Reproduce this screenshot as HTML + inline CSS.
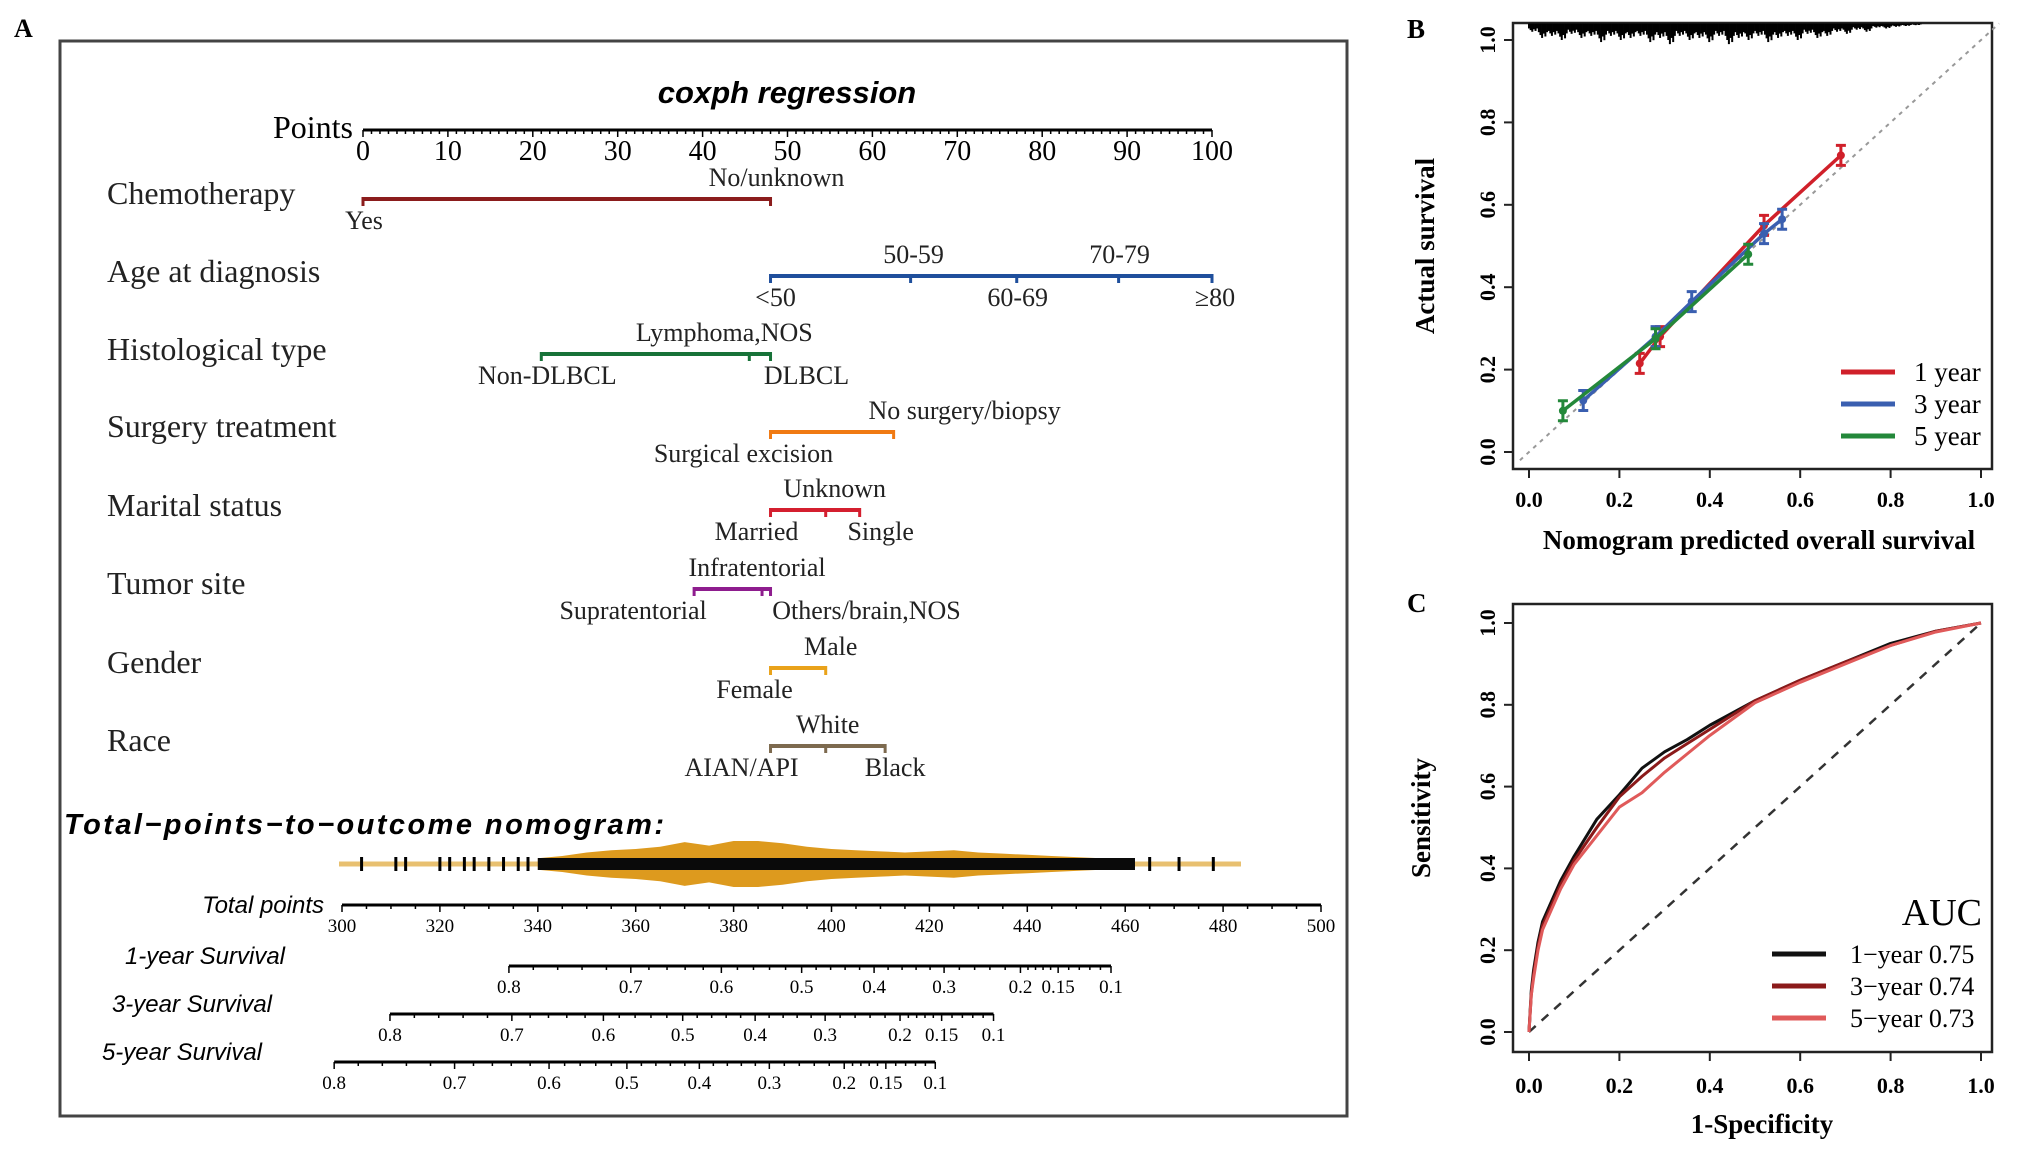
<!DOCTYPE html>
<html><head><meta charset="utf-8"><style>
html,body{margin:0;padding:0;background:#fff;}
svg{display:block;}
.serif{font-family:"Liberation Serif",serif;}
.sans{font-family:"Liberation Sans",sans-serif;}
</style></head>
<body>
<svg id="fig" width="2031" height="1157" viewBox="0 0 2031 1157" xmlns="http://www.w3.org/2000/svg"></svg>
<script>
// ---------- Panel A data ----------
const pointTicks = [0,10,20,30,40,50,60,70,80,90,100];
const rowNames = ["Chemotherapy","Age at diagnosis","Histological type","Surgery treatment","Marital status","Tumor site","Gender","Race"];
const rowColors = ["#8b1c1c","#1f4f9c","#177238","#f07a12","#d41f2f","#8e1d8e","#e9a21a","#7d6a4f"];
const chemoLevels = ["Yes","No/unknown"], chemoPts = [0,48], chemoPos = ["b","a"];
const ageLevels = ["<50","50-59","60-69","70-79","≥80"], agePts = [48,64.5,77,89,100], agePos = ["b","a","b","a","b"];
const histLevels = ["Non-DLBCL","Lymphoma,NOS","DLBCL"], histPts = [21,45.5,48], histPos = ["b","a","b"];
const surgLevels = ["Surgical excision","No surgery/biopsy"], surgPts = [48,62.5], surgPos = ["b","a"];
const marLevels = ["Married","Unknown","Single"], marPts = [48,54.5,58.5], marPos = ["b","a","b"];
const tumLevels = ["Supratentorial","Infratentorial","Others/brain,NOS"], tumPts = [39,47,48], tumPos = ["b","a","b"];
const genLevels = ["Female","Male"], genPts = [48,54.5], genPos = ["b","a"];
const raceLevels = ["AIAN/API","White","Black"], racePts = [48,54.5,61.5], racePos = ["b","a","b"];
const totalTicks = [300,320,340,360,380,400,420,440,460,480,500];
const survLabels = ["0.8","0.7","0.6","0.5","0.4","0.3","0.2","0.15","0.1"];
const surv1Pts = [334.1,359.0,377.5,393.9,408.7,423.0,438.6,446.3,457.1];
const surv3Pts = [309.8,334.7,353.4,369.6,384.4,398.7,414.0,422.5,433.1];
const surv5Pts = [298.4,323.0,342.3,358.2,373.0,387.3,402.6,411.1,421.2];
const distTicks = [304,311,313,320,322,325,327,330,333,336,338,465,471,478];
const blobTP = [340,345,350,355,360,365,370,375,380,385,390,395,400,405,410,415,420,425,430,435,440,445,450,455,460];
const blobHalf = [5,7,10,12,13,15,19,16,20,20,18,15,13,12,11,10,11,12,10,9,8,7,6,5,4];

// ---------- Panel B data ----------
const calibTicks = [0,0.2,0.4,0.6,0.8,1.0];
const cal1X = [0.245,0.29,0.52,0.69], cal1Y = [0.215,0.28,0.55,0.72];
const cal3X = [0.12,0.28,0.36,0.52,0.56], cal3Y = [0.125,0.28,0.365,0.53,0.565];
const cal5X = [0.075,0.28,0.485], cal5Y = [0.10,0.275,0.48];
const rugDepth = [0.02,0.035,0.03,0.04,0.025,0.035,0.03,0.045,0.03,0.04,0.035,0.03,0.045,0.035,0.05,0.03,0.04,0.035,0.045,0.03,0.05,0.035,0.04,0.03,0.045,0.035,0.03,0.04,0.025,0.035,0.03,0.02,0.025,0.015,0.02,0.01,0.012,0.008,0.006,0.004];

// ---------- Panel C data ----------
const rocFpr = [0,0.005,0.01,0.02,0.03,0.05,0.07,0.1,0.15,0.2,0.25,0.3,0.35,0.4,0.5,0.6,0.7,0.8,0.9,1];
const roc1Tpr = [0,0.1,0.15,0.22,0.27,0.32,0.37,0.43,0.52,0.58,0.645,0.685,0.715,0.75,0.81,0.86,0.905,0.95,0.98,1];
const roc3Tpr = [0,0.09,0.14,0.21,0.26,0.31,0.36,0.42,0.50,0.575,0.625,0.67,0.705,0.74,0.81,0.86,0.905,0.945,0.98,1];
const roc5Tpr = [0,0.09,0.13,0.2,0.25,0.30,0.35,0.41,0.48,0.55,0.585,0.635,0.68,0.725,0.805,0.855,0.9,0.945,0.978,1];
const aucLabels = ["1\u2212year 0.75","3\u2212year 0.74","5\u2212year 0.73"];
const rocColors = ["#111111","#8b1a1a","#e05a5a"];

const NS = "http://www.w3.org/2000/svg";
const svg = document.getElementById("fig");
function mk(tag, attrs, parent, text){
  const e = document.createElementNS(NS, tag);
  for (const k in attrs) e.setAttribute(k, attrs[k]);
  if (text !== undefined) e.textContent = text;
  (parent || svg).appendChild(e);
  return e;
}

// ===== Panel A =====
const gA = mk("g", {});


let t = mk("text",{x:14,y:37,"font-size":26,"font-weight":"bold",class:"serif"},gA,"A");


let r = mk("rect",{x:60,y:41,width:1287,height:1075,fill:"none",stroke:"#444","stroke-width":3},gA);


t = mk("text",{x:787,y:103,"font-size":31,"font-weight":"bold","font-style":"italic","text-anchor":"middle",class:"sans"},gA,"coxph regression");



const px = v => 363 + v*8.49;
const axisY = 130;
let ln = mk("line",{x1:px(0),x2:px(100),y1:axisY,y2:axisY,stroke:"#000","stroke-width":3},gA);


for (let v=0; v<=100; v++){
  const major = v%10===0;
  mk("line",{x1:px(v),x2:px(v),y1:axisY,y2:axisY+(major?7:4),stroke:"#000","stroke-width":1.5},gA);
}
pointTicks.forEach(v=>{
  const tt = mk("text",{x:px(v),y:axisY+30,"font-size":28,"text-anchor":"middle",class:"serif"},gA,String(v));
  
  
});
t = mk("text",{x:353,y:138,"font-size":32,"text-anchor":"end",class:"serif"},gA,"Points");



const rowLabelY = [194,272,350,427,506,584,663,741];
const rowLineY = [199,276,354,432,510,589,668,746];
const rowLevels = [chemoLevels,ageLevels,histLevels,surgLevels,marLevels,tumLevels,genLevels,raceLevels];
const rowPts = [chemoPts,agePts,histPts,surgPts,marPts,tumPts,genPts,racePts];
const rowPos = [chemoPos,agePos,histPos,surgPos,marPos,tumPos,genPos,racePos];
const labelDx = [[1,6],[5,3,1,1,3],[6,-25,36],[-27,71],[-14,9,21],[-61,-5,96],[-16,5],[-29,2,10]];
rowNames.forEach((name,i)=>{
  const lab = mk("text",{x:107,y:rowLabelY[i]+10,"font-size":32,class:"serif",fill:"#222"},gA,name);
  
  
  const pts = rowPts[i], y = rowLineY[i];
  const lo = Math.min(...pts), hi = Math.max(...pts);
  const l = mk("line",{x1:px(lo),x2:px(hi),y1:y,y2:y,stroke:rowColors[i],"stroke-width":4},gA);
  
  
  pts.forEach((p,j)=>{
    mk("line",{x1:px(p),x2:px(p),y1:y-2,y2:y+7,stroke:rowColors[i],"stroke-width":3},gA);
    const above = rowPos[i][j]==="a";
    const tl = mk("text",{x:px(p)+labelDx[i][j],y:above?y-13:y+30,"font-size":26,"text-anchor":"middle",class:"serif",fill:"#222"},gA,rowLevels[i][j]);
    
    
  });
});

t = mk("text",{x:64,y:834,"font-size":29,"font-weight":"bold","font-style":"italic",class:"sans",textLength:600},gA,"Total\u2212points\u2212to\u2212outcome nomogram:");



const tx = v => 342 + (v-300)*(1321-342)/200;
const distY = 864;
ln = mk("line",{x1:339,x2:1241,y1:distY,y2:distY,stroke:"#e8c070","stroke-width":5},gA);


let dTop = "", dBot = "";
blobTP.forEach((v,i)=>{ dTop += (i?"L":"M")+tx(v)+","+(distY-blobHalf[i]*1.15); });
for (let i=blobTP.length-1;i>=0;i--){ dBot += "L"+tx(blobTP[i])+","+(distY+blobHalf[i]*1.15); }
let pth = mk("path",{d:dTop+dBot+"Z",fill:"#dd9a1e"},gA);


let rc = mk("rect",{x:tx(340),y:distY-6,width:tx(462)-tx(340),height:12,fill:"#0a0a0a"},gA);


distTicks.forEach(v=>{
  const l = mk("line",{x1:tx(v),x2:tx(v),y1:distY-7,y2:distY+7,stroke:"#000","stroke-width":3},gA);
  
  
});

const totY = 905;
ln = mk("line",{x1:tx(300),x2:tx(500),y1:totY,y2:totY,stroke:"#000","stroke-width":3},gA);


for (let v=300; v<=500; v+=5){
  mk("line",{x1:tx(v),x2:tx(v),y1:totY,y2:totY+(v%20===0?7:4),stroke:"#000","stroke-width":1.5},gA);
}
totalTicks.forEach(v=>{
  const tt = mk("text",{x:tx(v),y:totY+27,"font-size":19,"text-anchor":"middle",class:"serif"},gA,String(v));
  
  
});
t = mk("text",{x:324,y:913,"font-size":24,"font-style":"italic","text-anchor":"end",class:"sans"},gA,"Total points");



const survRows = [
  {name:"1-year Survival", pts:surv1Pts, y:966, lx:285},
  {name:"3-year Survival", pts:surv3Pts, y:1014, lx:272},
  {name:"5-year Survival", pts:surv5Pts, y:1062, lx:262}
];
survRows.forEach(s=>{
  const lab = mk("text",{x:s.lx,y:s.y-2,"font-size":24,"font-style":"italic","text-anchor":"end",class:"sans"},gA,s.name);
  
  
  const a = tx(s.pts[0]), b = tx(s.pts[s.pts.length-1]);
  const l = mk("line",{x1:a,x2:b,y1:s.y,y2:s.y,stroke:"#000","stroke-width":3},gA);
  
  
  for (let j=0;j<s.pts.length-1;j++){
    for (let k=0;k<5;k++){
      const xx = tx(s.pts[j] + (s.pts[j+1]-s.pts[j])*k/5);
      mk("line",{x1:xx,x2:xx,y1:s.y,y2:s.y+(k===0?7:4),stroke:"#000","stroke-width":1.5},gA);
    }
  }
  mk("line",{x1:b,x2:b,y1:s.y,y2:s.y+7,stroke:"#000","stroke-width":1.5},gA);
  s.pts.forEach((p,j)=>{
    const tt = mk("text",{x:tx(p),y:s.y+27,"font-size":19,"text-anchor":"middle",class:"serif"},gA,survLabels[j]);
    
    
  });
});

// ===== Panel B =====
const gB = mk("g", {});


const bx = v => 1529 + v*(1981-1529);
const by = v => 452 - v*(452-40);
t = mk("text",{x:1407,y:38,"font-size":27,"font-weight":"bold",class:"serif"},gB,"B");


r = mk("rect",{x:1513,y:23,width:479,height:446,fill:"none",stroke:"#222","stroke-width":2.5},gB);


for (let i=0;i<rugDepth.length;i++){
  for (let k=0;k<6;k++){
    const xv = (i*6+k)/(rugDepth.length*6)*0.87;
    const d = rugDepth[i]*(0.6+0.4*((k*7)%5)/4);
    mk("line",{x1:bx(xv),x2:bx(xv),y1:by(1.04),y2:by(1.04-d),stroke:"#000","stroke-width":2},gB);
  }
}
ln = mk("line",{x1:bx(-0.02),x2:bx(1.04),y1:by(-0.02),y2:by(1.04),stroke:"#999","stroke-width":2,"stroke-dasharray":"4,5"},gB);


calibTicks.forEach(v=>{
  mk("line",{x1:bx(v),x2:bx(v),y1:469,y2:478,stroke:"#222","stroke-width":2},gB);
  const tt = mk("text",{x:bx(v),y:507,"font-size":22,"font-weight":"bold","text-anchor":"middle",class:"serif"},gB,v.toFixed(1));
  
  
  mk("line",{x1:1504,x2:1513,y1:by(v),y2:by(v),stroke:"#222","stroke-width":2},gB);
  const ty = mk("text",{x:0,y:0,"font-size":22,"font-weight":"bold","text-anchor":"middle",class:"serif",transform:"translate(1495,"+by(v)+") rotate(-90)"},gB,v.toFixed(1));
  
  
});
t = mk("text",{x:1759,y:549,"font-size":27,"font-weight":"bold","text-anchor":"middle",class:"serif"},gB,"Nomogram predicted overall survival");


t = mk("text",{x:0,y:0,"font-size":27,"font-weight":"bold","text-anchor":"middle",class:"serif",transform:"translate(1434,246) rotate(-90)"},gB,"Actual survival");


const calSeries = [
  {x:cal1X,y:cal1Y,c:"#d0202a"},
  {x:cal3X,y:cal3Y,c:"#3a5fb0"},
  {x:cal5X,y:cal5Y,c:"#23883a"}
];
calSeries.forEach(s=>{
  const d = s.x.map((v,i)=>(i?"L":"M")+bx(v)+","+by(s.y[i])).join("");
  const p = mk("path",{d:d,fill:"none",stroke:s.c,"stroke-width":3.5},gB);
  
  
  s.x.forEach((v,i)=>{
    const cx = bx(v), cy = by(s.y[i]);
    const eb = mk("path",{d:`M${cx},${cy-10}L${cx},${cy+10}M${cx-5},${cy-10}L${cx+5},${cy-10}M${cx-5},${cy+10}L${cx+5},${cy+10}`,stroke:s.c,"stroke-width":3},gB);
    
    
    const pt = mk("circle",{cx:cx,cy:cy,r:4,fill:s.c},gB);
    
    
  });
});
const calLeg = ["1 year","3 year","5 year"];
calLeg.forEach((l,i)=>{
  const yy = 372 + i*32;
  const ll = mk("line",{x1:1841,x2:1895,y1:yy,y2:yy,stroke:calSeries[i].c,"stroke-width":5},gB);
  
  
  const lt = mk("text",{x:1914,y:yy+9,"font-size":27,class:"serif"},gB,l);
  
  
});

// ===== Panel C =====
const gC = mk("g", {});


const cx_ = v => 1529 + v*(1981-1529);
const cy_ = v => 1032 - v*(1032-623);
t = mk("text",{x:1407,y:612,"font-size":27,"font-weight":"bold",class:"serif"},gC,"C");


r = mk("rect",{x:1513,y:604,width:479,height:448,fill:"none",stroke:"#222","stroke-width":2.5},gC);


ln = mk("line",{x1:cx_(0),x2:cx_(1),y1:cy_(0),y2:cy_(1),stroke:"#333","stroke-width":2.5,"stroke-dasharray":"9,8"},gC);


calibTicks.forEach(v=>{
  mk("line",{x1:cx_(v),x2:cx_(v),y1:1052,y2:1061,stroke:"#222","stroke-width":2},gC);
  const tt = mk("text",{x:cx_(v),y:1093,"font-size":22,"font-weight":"bold","text-anchor":"middle",class:"serif"},gC,v.toFixed(1));
  
  
  mk("line",{x1:1504,x2:1513,y1:cy_(v),y2:cy_(v),stroke:"#222","stroke-width":2},gC);
  const ty = mk("text",{x:0,y:0,"font-size":22,"font-weight":"bold","text-anchor":"middle",class:"serif",transform:"translate(1495,"+cy_(v)+") rotate(-90)"},gC,v.toFixed(1));
  
  
});
t = mk("text",{x:1762,y:1133,"font-size":27,"font-weight":"bold","text-anchor":"middle",class:"serif"},gC,"1-Specificity");


t = mk("text",{x:0,y:0,"font-size":27,"font-weight":"bold","text-anchor":"middle",class:"serif",transform:"translate(1430,818) rotate(-90)"},gC,"Sensitivity");


[roc1Tpr,roc3Tpr,roc5Tpr].forEach((tp,i)=>{
  const d = rocFpr.map((v,j)=>(j?"L":"M")+cx_(v)+","+cy_(tp[j])).join("");
  const p = mk("path",{d:d,fill:"none",stroke:rocColors[i],"stroke-width":3,"stroke-linejoin":"round"},gC);
  
  
});
t = mk("text",{x:1982,y:925,"font-size":38,"text-anchor":"end",class:"serif"},gC,"AUC");


aucLabels.forEach((l,i)=>{
  const yy = 954 + i*32;
  const ll = mk("line",{x1:1772,x2:1826,y1:yy,y2:yy,stroke:rocColors[i],"stroke-width":5},gC);
  
  
  const lt = mk("text",{x:1850,y:yy+9,"font-size":26,class:"serif"},gC,l);
  
  
});
</script>
</body></html>
